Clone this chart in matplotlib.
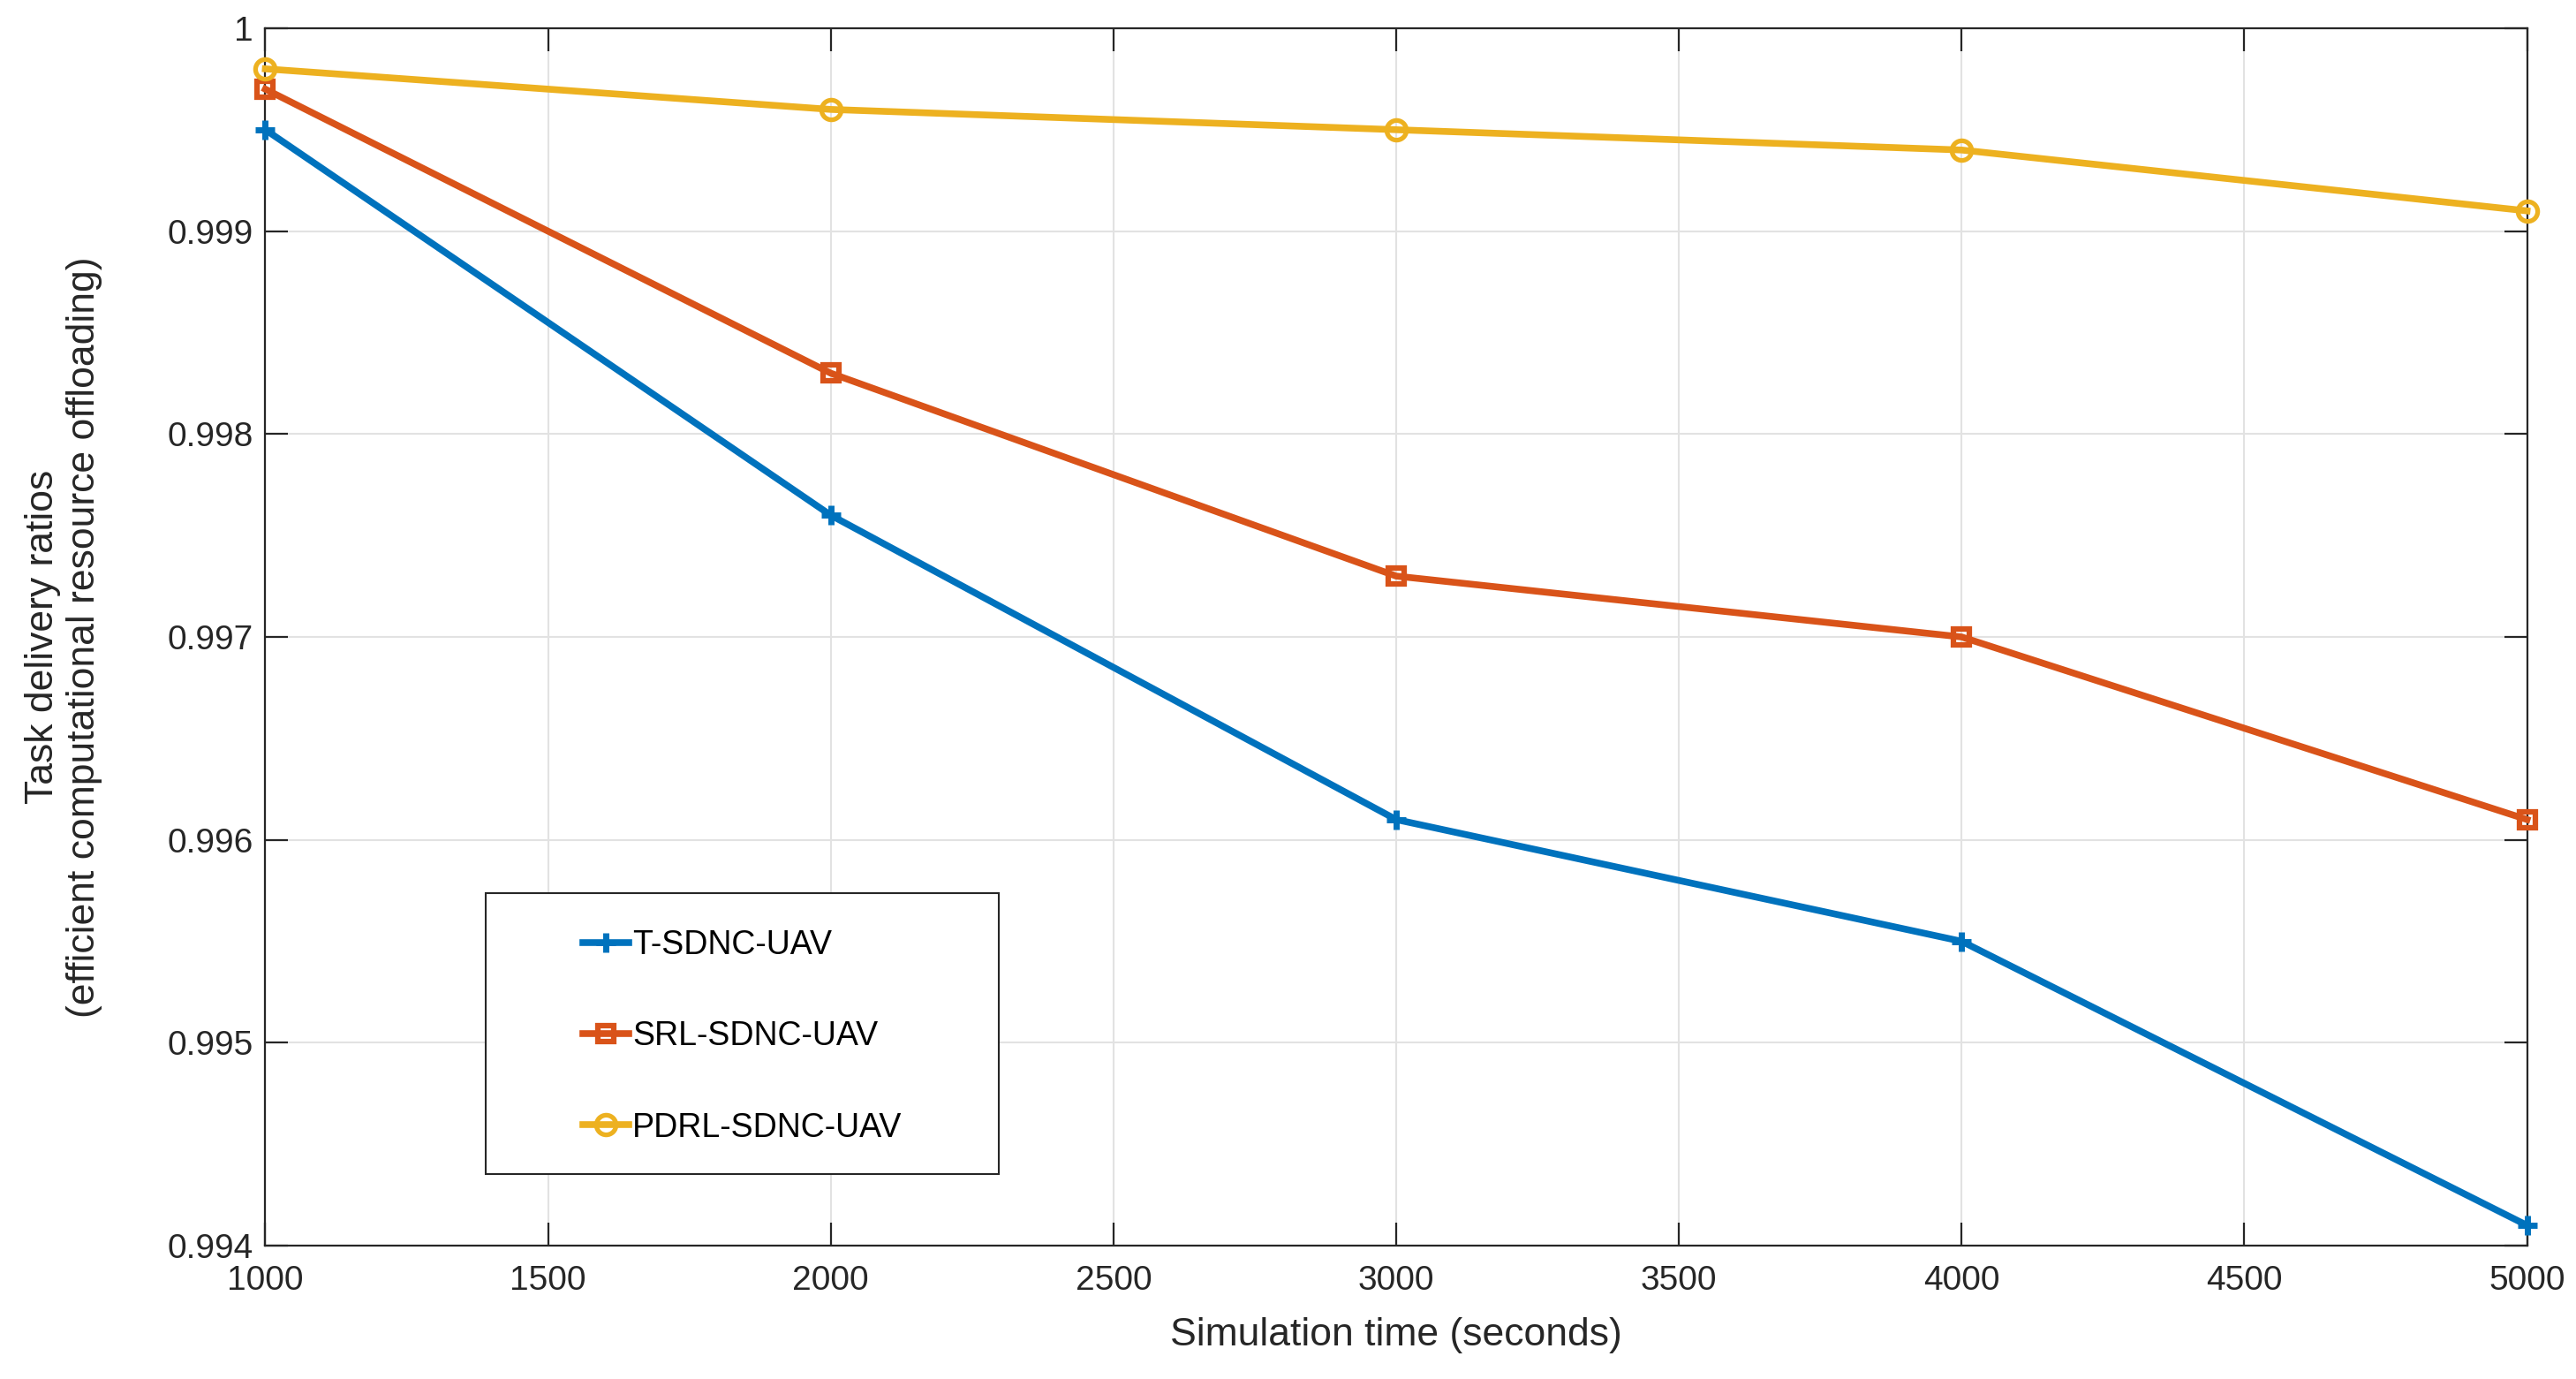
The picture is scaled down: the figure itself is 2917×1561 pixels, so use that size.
import matplotlib
matplotlib.use("Agg")
import matplotlib.pyplot as plt
from matplotlib.patches import Rectangle

sim_time = [1000, 2000, 3000, 4000, 5000]
t_sdnc = [0.9995, 0.9976, 0.9961, 0.9955, 0.9941]
srl_sdnc = [0.9997, 0.9983, 0.9973, 0.9970, 0.9961]
pdrl_sdnc = [0.9998, 0.9996, 0.9995, 0.9994, 0.9991]
labels = ["T-SDNC-UAV", "SRL-SDNC-UAV", "PDRL-SDNC-UAV"]
xticks = [1000, 1500, 2000, 2500, 3000, 3500, 4000, 4500, 5000]
yticks = [0.994, 0.995, 0.996, 0.997, 0.998, 0.999, 1.0]
ytick_labels = ["0.994", "0.995", "0.996", "0.997", "0.998", "0.999", "1"]

plt.rcParams['font.family'] = ['Liberation Sans', 'DejaVu Sans']

fig = plt.figure(figsize=(29.17, 15.61), dpi=100)
ax = fig.add_axes([0.103, 0.0967, 0.878, 0.8828])

c1, c2, c3 = '#0072BD', '#D95319', '#EDB120'
lw = 5.5
ax.plot(sim_time, t_sdnc, color=c1, lw=lw, marker='+', ms=16, mew=5, label=labels[0], clip_on=False, zorder=3)
ax.plot(sim_time, srl_sdnc, color=c2, lw=lw, marker='s', ms=13, mew=4.5, mfc='none', label=labels[1], clip_on=False, zorder=3)
ax.plot(sim_time, pdrl_sdnc, color=c3, lw=lw, marker='o', ms=16, mew=3.8, mfc='none', label=labels[2], clip_on=False, zorder=3)

ax.set_xlim(1000, 5000)
ax.set_ylim(0.994, 1.0)
ax.set_xticks(xticks)
ax.set_xticklabels([str(v) for v in xticks])
ax.set_yticks(yticks)
ax.set_yticklabels(ytick_labels)
ax.grid(True, color='#e2e2e2', lw=1.5)
ax.set_axisbelow(True)
ax.tick_params(direction='in', length=19, width=1.6, top=True, right=True, labelsize=28, colors='#262626')
ax.tick_params(axis='x', pad=16)
ax.tick_params(axis='y', pad=10)
for s in ax.spines.values():
    s.set_linewidth(1.6)
    s.set_color('#262626')

fig.text(0.542, 0.0243, "Simulation time (seconds)", fontsize=32, color='#262626', ha='center', va='baseline')
fig.text(0.0247, 0.538, "Task delivery ratios\n(efficient computational resource offloading)", fontsize=32,
         color='#262626', rotation=90, ha='center', va='center', multialignment='center', linespacing=1.2)

# legend frame
frame = Rectangle((0.1884, 0.1486), 0.3877 - 0.1884, 0.3523 - 0.1486, transform=fig.transFigure,
                  facecolor='white', edgecolor='#262626', lw=1.5, zorder=5, clip_on=False)
ax.add_patch(frame)
leg = ax.legend(loc='center left', bbox_to_anchor=(0.2263, 0.2483), bbox_transform=fig.transFigure,
                fontsize=27, frameon=False, handlelength=1.38, handletextpad=0.12, labelspacing=1.79,
                borderpad=0, borderaxespad=0)
leg.set_zorder(6)

fig.savefig("out.png", dpi=100, facecolor='white')
